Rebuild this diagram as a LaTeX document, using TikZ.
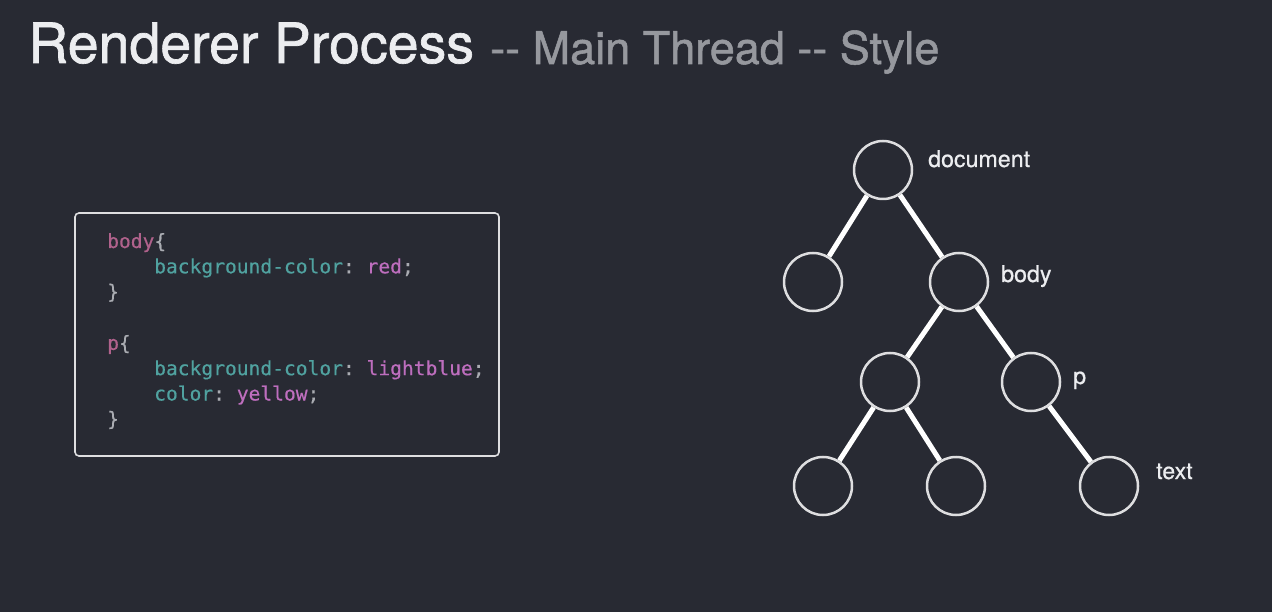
\documentclass[tikz,border=0pt]{standalone}
\usepackage{fontspec}
\setmainfont{TeX Gyre Heros}
\newfontfamily\titlefont[FakeBold=1.2]{TeX Gyre Heros}
\newfontfamily\labelfont[FakeBold=0.6]{TeX Gyre Heros}
\newfontfamily\codefont[FakeBold=0.4]{DejaVu Sans Mono}
\definecolor{bgc}{RGB}{40,42,51}
\definecolor{titlewhite}{RGB}{236,237,240}
\definecolor{titlegray}{RGB}{150,152,158}
\definecolor{selc}{RGB}{176,98,140}
\definecolor{propc}{RGB}{80,162,160}
\definecolor{valc}{RGB}{190,110,190}
\definecolor{punc}{RGB}{170,172,178}
\definecolor{circc}{RGB}{222,222,224}
\tikzset{
  tnode/.style={circle, draw=circc, line width=2.5pt, minimum size=58pt, inner sep=0pt},
  tedge/.style={white, line width=5pt},
  tlabel/.style={anchor=base west, inner sep=0pt, text=titlewhite, font=\labelfont\fontsize{23.2}{26}\selectfont},
  codeline/.style={anchor=base west, inner sep=0pt, font=\codefont\fontsize{19.6}{22}\selectfont},
  codebox/.style={draw=circc, line width=1.6pt, rounded corners=4pt}
}
\frenchspacing
\begin{document}
\begin{tikzpicture}[x=1pt,y=-1pt]
\fill[bgc] (0,0) rectangle (1272,612);
\useasboundingbox (0,0) rectangle (1272,612);
% title
\node[anchor=base west, inner sep=0pt, text=titlewhite, font=\titlefont\fontsize{55.5}{60}\selectfont] (t1) at (28,63) {Renderer Process};
\node[anchor=base west, inner sep=0pt, text=titlegray, font=\titlefont\fontsize{45}{50}\selectfont] (t2) at (490,64) {{-}{-} Main Thread {-}{-} Style};
% code box
\draw[codebox] (75,213) rectangle (499,456);
\node[codeline] (c1) at (107,248) {\textcolor{selc}{body}\textcolor{punc}{\{}};
\node[codeline] (c2) at (154,273.3) {\textcolor{propc}{background-color}\textcolor{punc}{: }\textcolor{valc}{red}\textcolor{punc}{;}};
\node[codeline] (c3) at (107,298.6) {\textcolor{punc}{\}}};
\node[codeline] (c4) at (107,349.9) {\textcolor{selc}{p}\textcolor{punc}{\{}};
\node[codeline] (c5) at (154,375.2) {\textcolor{propc}{background-color}\textcolor{punc}{: }\textcolor{valc}{lightblue}\textcolor{punc}{;}};
\node[codeline] (c6) at (154,400.5) {\textcolor{propc}{color}\textcolor{punc}{: }\textcolor{valc}{yellow}\textcolor{punc}{;}};
\node[codeline] (c7) at (107,425.8) {\textcolor{punc}{\}}};
% tree
\node[tnode] (doc) at (883,170) {};
\node[tnode] (l1) at (813,282) {};
\node[tnode] (body) at (959,282) {};
\node[tnode] (m1) at (890,382) {};
\node[tnode] (p) at (1031,382) {};
\node[tnode] (b1) at (823,486) {};
\node[tnode] (b2) at (956,486) {};
\node[tnode] (txt) at (1109,486) {};
\draw[tedge] (doc) -- (l1);
\draw[tedge] (doc) -- (body);
\draw[tedge] (body) -- (m1);
\draw[tedge] (body) -- (p);
\draw[tedge] (m1) -- (b1);
\draw[tedge] (m1) -- (b2);
\draw[tedge] (p) -- (txt);
\node[tlabel] (ldoc) at (928,167) {document};
\node[tlabel] (lbody) at (1001,282) {body};
\node[tlabel] (lp) at (1073,384) {p};
\node[tlabel] (ltxt) at (1156,479) {text};
\end{tikzpicture}
\end{document}
